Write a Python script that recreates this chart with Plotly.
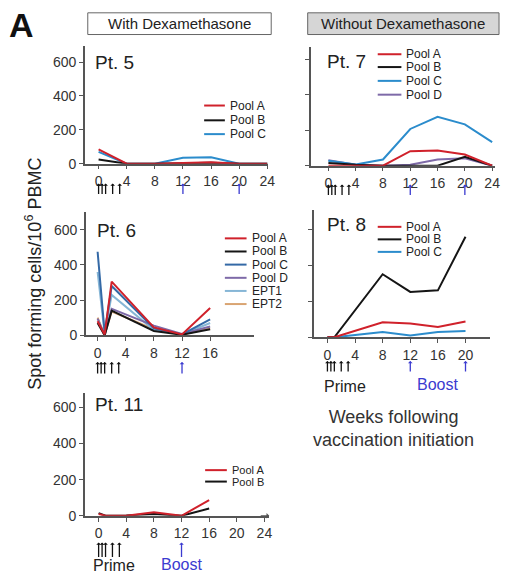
import plotly.graph_objects as go

W, H = 508, 581

# ---------------- data ----------------
pool_labels = ["Pool A", "Pool B", "Pool C", "Pool D", "EPT1", "EPT2"]

pt5_weeks = [0, 4, 8, 12, 16, 20, 24]
pt5_pool_a = [85, 0, 0, 5, 8, 0, 0]
pt5_pool_b = [25, 0, 0, 3, 5, 0, 0]
pt5_pool_c = [70, 0, 0, 35, 38, 0, 0]

pt7_weeks = [0, 4, 8, 12, 16, 20, 24]
pt7_pool_a = [0, 0, 0, 82, 85, 63, 0]
pt7_pool_b = [15, 5, 0, 0, 0, 50, 0]
pt7_pool_c = [28, 7, 35, 207, 276, 233, 133]
pt7_pool_d = [30, 5, 0, 5, 35, 42, 0]

pt6_weeks = [0, 1, 2, 8, 12, 16]
pt6_pool_a = [80, 5, 305, 45, 5, 155]
pt6_pool_b = [70, 0, 140, 25, 3, 35]
pt6_pool_c = [475, 15, 280, 40, 5, 90]
pt6_pool_d = [95, 0, 150, 55, 8, 50]
pt6_ept1 = [360, 10, 230, 30, 5, 70]
pt6_ept2 = [100, 0, 135, 35, 5, 40]

pt8_weeks = [0, 1, 8, 12, 16, 20]
pt8_pool_a = [0, 0, 84, 77, 57, 88]
pt8_pool_b = [0, 0, 352, 253, 262, 561]
pt8_pool_c = [0, 0, 30, 10, 30, 35]

pt11_weeks = [0, 1, 4, 8, 12, 16]
pt11_pool_a = [10, 0, 0, 20, 0, 87]
pt11_pool_b = [15, 0, 2, 10, 0, 40]

prime_weeks = [0, 0.5, 1, 2, 3]
boost_weeks_long = [12, 20]
boost_weeks_short = [12]

y_ticks = [0, 200, 400, 600]
x_ticks_full = [0, 4, 8, 12, 16, 20, 24]
x_ticks_pt6 = [0, 4, 8, 12, 16]
x_ticks_pt8 = [0, 4, 8, 12, 16, 20]

# ---------------- styles ----------------
FONT = "Liberation Sans, Arial, sans-serif"
RED = "#d0212b"
BLACK = "#151515"
BLUE = "#2b8ccc"
BLUE6 = "#3469a6"
PURPLE = "#7e6aa8"
LBLUE = "#86b6d6"
TAN = "#d9a472"
AXIS = "#555555"
ARROW_BLUE = "#3b3bd0"

def px_x(px):
    return px / W

def px_y(py):
    return 1 - py / H

panels = [
    dict(name="Pt. 5", weeks=pt5_weeks,
         series=[(pt5_pool_a, RED), (pt5_pool_b, BLACK), (pt5_pool_c, BLUE)],
         labels=pool_labels[:3],
         box=(86, 272, 47, 166), xr=[-1.96, 24.14], yr=[0, 693], xt=x_ticks_full,
         ylabels=True, leg=(207, 228, [107, 122, 136]), legfont=12,
         arrows=(186, 198), boost=boost_weeks_long, title_xy=(94, 63)),
    dict(name="Pt. 7", weeks=pt7_weeks,
         series=[(pt7_pool_a, RED), (pt7_pool_b, BLACK), (pt7_pool_c, BLUE), (pt7_pool_d, PURPLE)],
         labels=pool_labels[:4],
         box=(315, 502, 48, 168), xr=[-2.6, 24.43], yr=[0, 667], xt=x_ticks_full,
         ylabels=False, leg=(383, 407, [55, 68, 82, 96]), legfont=12,
         arrows=(187, 199), boost=boost_weeks_long, title_xy=(330, 62)),
    dict(name="Pt. 6", weeks=pt6_weeks,
         series=[(pt6_pool_a, RED), (pt6_pool_b, BLACK), (pt6_pool_c, BLUE6),
                 (pt6_pool_d, PURPLE), (pt6_ept1, LBLUE), (pt6_ept2, TAN)],
         labels=pool_labels,
         box=(87, 258, 215, 340), xr=[-1.68, 22.3], yr=[0, 701], xt=x_ticks_pt6,
         ylabels=True, leg=(228, 250, [241.7, 255, 268.3, 281.7, 295, 308.3]), legfont=12,
         arrows=(367, 380), boost=boost_weeks_short, title_xy=(96, 234)),
    dict(name="Pt. 8", weeks=pt8_weeks,
         series=[(pt8_pool_a, RED), (pt8_pool_b, BLACK), (pt8_pool_c, BLUE)],
         labels=pool_labels[:3],
         box=(318, 497, 213, 342), xr=[-2.0, 23.57], yr=[0, 710], xt=x_ticks_pt8,
         ylabels=False, leg=(383, 407, [230, 242.7, 255.4]), legfont=12,
         arrows=(366, 378), boost=boost_weeks_long, title_xy=(330, 228)),
    dict(name="Pt. 11", weeks=pt11_weeks,
         series=[(pt11_pool_a, RED), (pt11_pool_b, BLACK)],
         labels=pool_labels[:2],
         box=(86, 273, 398, 523), xr=[-2.0, 24.7], yr=[0, 682], xt=x_ticks_full,
         ylabels=True, leg=(208, 230, [476.7, 488.3]), legfont=11,
         arrows=(550, 566), boost=boost_weeks_short, title_xy=(94, 410)),
]

fig = go.Figure()
shapes = []
annotations = []

def text_ann(text, x, y, size, color="#222", xref="paper", xanchor="center", **kw):
    d = dict(text=text, xref=xref, yref="paper", x=x, y=y, xanchor=xanchor,
             yanchor="middle", showarrow=False,
             font=dict(family=FONT, size=size, color=color))
    d.update(kw)
    return d

for i, p in enumerate(panels, start=1):
    xa = "x" if i == 1 else f"x{i}"
    ya = "y" if i == 1 else f"y{i}"
    l, r, t, b = p["box"]
    for (vals, col) in reversed(p["series"]):
        fig.add_trace(go.Scatter(x=p["weeks"], y=vals, mode="lines",
                                 line=dict(color=col, width=2),
                                 xaxis=xa, yaxis=ya, showlegend=False,
                                 hoverinfo="skip"))
    ax_common = dict(showline=True, linecolor=AXIS, linewidth=1.5, ticks="outside",
                     ticklen=4, tickcolor=AXIS, tickwidth=1.2, showgrid=False,
                     zeroline=False, tickfont=dict(family=FONT, size=14, color="#333"))
    fig.update_layout(**{
        ("xaxis" if i == 1 else f"xaxis{i}"): dict(
            domain=[px_x(l), px_x(r)], range=p["xr"], anchor=ya,
            tickvals=p["xt"], ticktext=[str(v) for v in p["xt"]], **ax_common),
        ("yaxis" if i == 1 else f"yaxis{i}"): dict(
            domain=[px_y(b), px_y(t)], range=p["yr"], anchor=xa,
            tickvals=y_ticks, showticklabels=p["ylabels"], **ax_common),
    })
    tx, ty = p["title_xy"]
    annotations.append(text_ann(p["name"], px_x(tx), px_y(ty), 19, xanchor="left"))
    lx0, lx1, rows = p["leg"]
    for (vals, col), lab, ry in zip(p["series"], p["labels"], rows):
        shapes.append(dict(type="line", xref="paper", yref="paper",
                           x0=px_x(lx0), x1=px_x(lx1), y0=px_y(ry), y1=px_y(ry),
                           line=dict(color=col, width=2)))
        annotations.append(text_ann(lab, px_x(lx1 + 3), px_y(ry), p["legfont"],
                                    xanchor="left"))
    a_top, a_bot = p["arrows"]
    for wk, colr in [(w, "#111") for w in prime_weeks] + [(w, ARROW_BLUE) for w in p["boost"]]:
        annotations.append(dict(x=wk, y=px_y(a_top), xref=xa, yref="paper",
                                ax=0, ay=a_bot - a_top, text="", showarrow=True,
                                arrowhead=1, arrowsize=0.6, arrowwidth=1.3,
                                arrowcolor=colr))

# arrowhead at the end of the Pt. 11 x-axis
annotations.append(dict(x=1, y=0, xref="x5 domain", yref="y5", ax=-10, ay=0,
                        text="", showarrow=True, arrowhead=1, arrowsize=0.7,
                        arrowwidth=1.3, arrowcolor=AXIS))

annotations += [
    text_ann("Prime", px_x(350), px_y(392), 16),
    text_ann("Boost", 16, px_y(390), 16, color=ARROW_BLUE, xref="x4"),
    text_ann("Prime", px_x(116), px_y(573), 16),
    text_ann("Boost", 12, px_y(572), 16, color=ARROW_BLUE, xref="x5"),
    text_ann("Weeks following<br>vaccination initiation", px_x(399), px_y(434), 18,
             color="#333", align="center"),
    text_ann("Spot forming cells/10<sup>6</sup> PBMC", px_x(34), px_y(278), 18,
             textangle=-90),
    text_ann("<b>A</b>", px_x(7), px_y(25), 34, color="#111", xanchor="left"),
    text_ann("With Dexamethasone", px_x((89 + 275) / 2), px_y(24), 15),
    text_ann("Without Dexamethasone", px_x((312 + 506) / 2), px_y(24), 15),
]

shapes += [
    dict(type="rect", xref="paper", yref="paper", x0=px_x(89), x1=px_x(275),
         y0=px_y(35), y1=px_y(13), line=dict(color="#666", width=1), fillcolor="white",
         layer="below"),
    dict(type="rect", xref="paper", yref="paper", x0=px_x(312), x1=px_x(506),
         y0=px_y(35), y1=px_y(13), line=dict(color="#666", width=1), fillcolor="#d6d6d6",
         layer="below"),
]

fig.update_layout(width=W, height=H, margin=dict(l=0, r=0, t=0, b=0),
                  paper_bgcolor="white", plot_bgcolor="rgba(0,0,0,0)",
                  shapes=shapes, annotations=annotations, showlegend=False,
                  font=dict(family=FONT))

fig.write_html("out.html")
